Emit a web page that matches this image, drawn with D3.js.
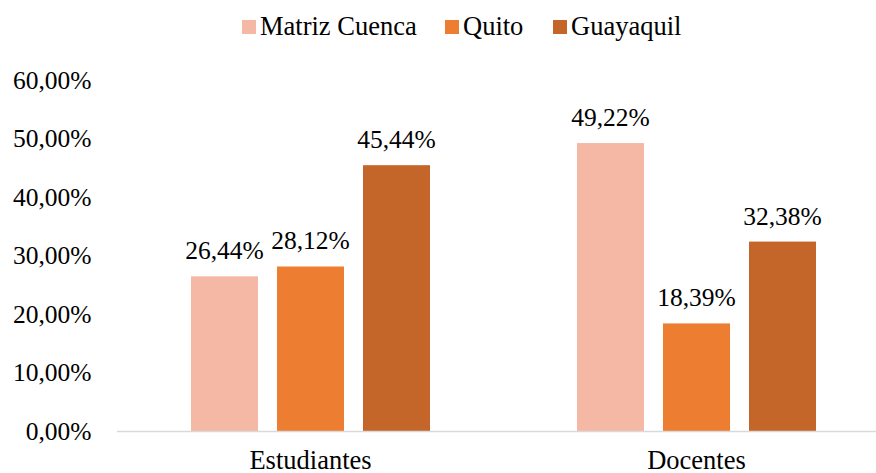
<!DOCTYPE html>
<html><head><meta charset="utf-8">
<script src="https://cdn.jsdelivr.net/npm/d3@7"></script>
<style>body{margin:0;background:#fff}svg{display:block}text{font-family:"Liberation Serif","Times New Roman",serif;fill:#000}</style>
</head><body>
<svg id="c" width="876" height="473"></svg>
<script>
const categories = ["Estudiantes", "Docentes"];
const seriesNames = ["Matriz Cuenca", "Quito", "Guayaquil"];
const matrizCuenca = [26.44, 49.22];
const quito = [28.12, 18.39];
const guayaquil = [45.44, 32.38];
const yTicks = [0, 10, 20, 30, 40, 50, 60];
const colors = ["#F4B8A5", "#ED7D31", "#C4662A"];

const seriesValues = [matrizCuenca, quito, guayaquil];
const fmt = v => v.toFixed(2).replace(".", ",") + "%";
const svg = d3.select("#c");
const FS = 25.5;

const x0 = d3.scaleBand().domain(categories).range([117.5, 889.5]).paddingInner(0).paddingOuter(0);
const x1 = d3.scaleBand().domain(seriesNames).range([73.5, 312.5]).paddingInner(19 / 86).paddingOuter(0);
const y = d3.scaleLinear().domain([0, 60]).range([431, 80]);

// y axis labels
const yAxis = d3.axisLeft(y).tickValues(yTicks).tickSize(0).tickPadding(0).tickFormat(d => d.toFixed(2).replace(".", ",") + "%");
const ga = svg.append("g").attr("transform", "translate(91.5,0)").call(yAxis);
ga.select(".domain").remove();
ga.selectAll("text").attr("font-size", FS).attr("font-family", "Liberation Serif").attr("dy", "0.33em").attr("fill", "#000");

// bars
const groups = svg.append("g").selectAll("g").data(categories).join("g")
  .attr("transform", d => `translate(${x0(d)},0)`);
groups.each(function(cat, ci) {
  const g = d3.select(this);
  seriesNames.forEach((s, si) => {
    const v = seriesValues[si][ci];
    g.append("rect").attr("x", x1(s)).attr("y", y(v)).attr("width", x1.bandwidth()).attr("height", y(0) - y(v)).attr("fill", colors[si]);
    g.append("text").attr("x", x1(s) + x1.bandwidth() / 2).attr("y", y(v) - 17)
      .attr("text-anchor", "middle").attr("font-size", FS).text(fmt(v));
  });
});

// x axis
svg.append("line").attr("x1", 117).attr("x2", 876).attr("y1", 431.5).attr("y2", 431.5).attr("stroke", "#D9D9D9").attr("stroke-width", 1.5);
const xAxis = d3.axisBottom(x0).tickSize(0).tickPadding(0);
const gx = svg.append("g").attr("transform", "translate(0,468.5)").call(xAxis);
gx.select(".domain").remove();
gx.selectAll("text").attr("font-size", 26.5).attr("font-family", "Liberation Serif").attr("dy", 0).attr("fill", "#000");

// legend
const legendX = [242, 445, 553];
const lg = svg.append("g").selectAll("g").data(seriesNames).join("g")
  .attr("transform", (d, i) => `translate(${legendX[i]},0)`);
lg.append("rect").attr("x", 0).attr("y", 20).attr("width", 14).attr("height", 14).attr("fill", (d, i) => colors[i]);
lg.append("text").attr("x", 18).attr("y", 35).attr("font-size", 26.5).text(d => d);
</script>
</body></html>
